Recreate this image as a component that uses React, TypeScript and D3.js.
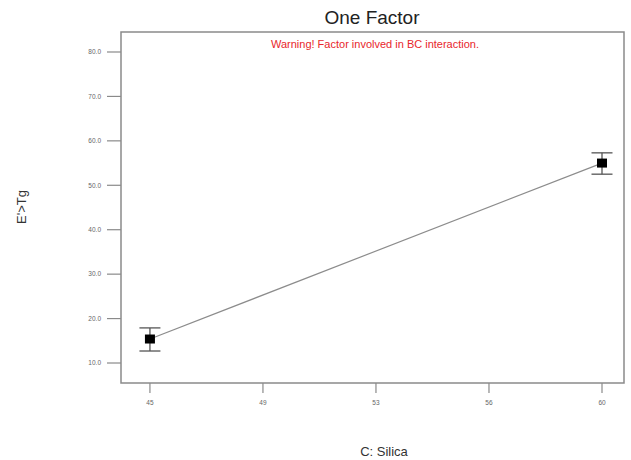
import React from 'react';
import * as d3 from 'd3';

const width = 631;
const height = 460;

// chart values
const silica = [45, 60];
const response = [15.4, 55.0];
const lower = [12.7, 52.5];
const upper = [17.9, 57.3];

const xTicks = [45, 48.75, 52.5, 56.25, 60];
const xTickLabels = ['45', '49', '53', '56', '60'];
const yTicks = [10, 20, 30, 40, 50, 60, 70, 80];

const frame = { left: 121, top: 32, right: 624, bottom: 383 };

const xScale = d3.scaleLinear().domain([44.04, 60.73]).range([frame.left, frame.right]);
const yScale = d3.scaleLinear().domain([5.5, 84.5]).range([frame.bottom, frame.top]);

const lineGen = d3
  .line<number>()
  .x((d, i) => xScale(silica[i]))
  .y(d => yScale(d));

const App = () => {
  const font = 'Arial, "Liberation Sans", sans-serif';
  return (
    <svg
      width={width}
      height={height}
      style={{ position: 'absolute', left: 0, top: 0, background: '#fff' }}
      fontFamily={font}
    >
      <rect
        x={frame.left}
        y={frame.top}
        width={frame.right - frame.left}
        height={frame.bottom - frame.top}
        fill="none"
        stroke="#8a8a8a"
        strokeWidth={1.5}
      />

      {yTicks.map(t => (
        <g key={t} transform={`translate(0,${yScale(t)})`}>
          <line x1={frame.left - 14} x2={frame.left} stroke="#8a8a8a" strokeWidth={1.2} />
          <text x={frame.left - 20} dy="0.35em" textAnchor="end" fontSize={6.5} fill="#666">
            {t.toFixed(1)}
          </text>
        </g>
      ))}

      {xTicks.map((t, i) => (
        <g key={t} transform={`translate(${xScale(t)},0)`}>
          <line y1={frame.bottom} y2={frame.bottom + 10} stroke="#8a8a8a" strokeWidth={1.2} />
          <text y={frame.bottom + 22} textAnchor="middle" fontSize={6.5} fill="#666">
            {xTickLabels[i]}
          </text>
        </g>
      ))}

      <path d={lineGen(response) || ''} fill="none" stroke="#8c8c8c" strokeWidth={1.2} />

      {silica.map((s, i) => {
        const cx = xScale(s);
        return (
          <g key={s} stroke="#555" strokeWidth={1.3}>
            <line x1={cx} x2={cx} y1={yScale(lower[i])} y2={yScale(upper[i])} />
            <line x1={cx - 10.5} x2={cx + 10.5} y1={yScale(lower[i])} y2={yScale(lower[i])} />
            <line x1={cx - 10.5} x2={cx + 10.5} y1={yScale(upper[i])} y2={yScale(upper[i])} />
            <rect x={cx - 5} y={yScale(response[i]) - 4.5} width={10} height={9} fill="#000" stroke="none" />
          </g>
        );
      })}

      <text x={372} y={24} textAnchor="middle" fontSize={19} fill="#222">
        One Factor
      </text>
      <text x={375} y={48} textAnchor="middle" fontSize={11} fill="#e8262b">
        Warning! Factor involved in BC interaction.
      </text>
      <text x={384} y={456} textAnchor="middle" fontSize={13} fill="#333">
        C: Silica
      </text>
      <text
        transform="translate(26,207) rotate(-90)"
        textAnchor="middle"
        fontSize={13}
        fill="#333"
      >
        E'&gt;Tg
      </text>
    </svg>
  );
};

export default App;
